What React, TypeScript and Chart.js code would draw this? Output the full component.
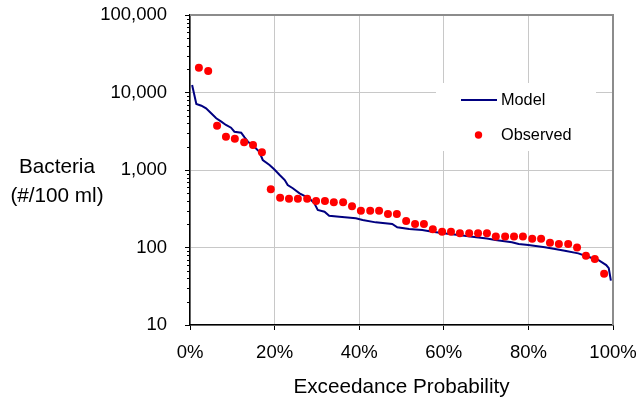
import { useEffect, useRef } from "react";
import { Chart, registerables } from "chart.js";

Chart.register(...registerables);

const FONT = '"Liberation Sans", Arial, Helvetica, sans-serif';

// Exceedance probability (%) and observed bacteria counts (#/100 ml)
const observedProb = [
  2.1, 4.3, 6.4, 8.5, 10.6, 12.8, 14.9, 17.0, 19.1, 21.3,
  23.4, 25.5, 27.7, 29.8, 31.9, 34.0, 36.2, 38.3, 40.4, 42.6,
  44.7, 46.8, 48.9, 51.1, 53.2, 55.3, 57.4, 59.6, 61.7, 63.8,
  66.0, 68.1, 70.2, 72.3, 74.5, 76.6, 78.7, 80.9, 83.0, 85.1,
  87.2, 89.4, 91.5, 93.6, 95.7, 97.9,
];
const observedCount = [
  20900, 18900, 3730, 2690, 2535, 2280, 2100, 1690, 564, 439,
  426, 426, 426, 398, 398, 383, 383, 340, 299, 299,
  299, 271, 271, 220, 201, 201, 172, 160, 160, 153,
  153, 153, 153, 139, 139, 139, 139, 130, 130, 115,
  111, 111, 100, 78, 71, 46,
];

// Modelled exceedance curve
const modelProb = [
  0.5, 1.5, 2.7, 3.8, 5.0, 6.2, 7.4, 8.5, 9.7, 10.5,
  12.1, 12.9, 13.7, 15.2, 16.4, 17.2, 18.8, 19.9, 21.2, 22.4,
  23.1, 24.3, 25.9, 28.2, 29.4, 30.2, 31.8, 32.9, 35.3, 39.2,
  40.8, 43.9, 47.8, 49.0, 51.8, 54.9, 57.3, 60.4, 63.5, 66.7,
  70.2, 72.2, 76.1, 77.7, 80.0, 83.9, 86.3, 88.6, 91.8, 94.1,
  96.5, 98.4, 99.0, 99.5,
];
const modelCount = [
  12500, 7110, 6760, 6250, 5390, 4650, 4200, 3810, 3515, 3120,
  3030, 2640, 2320, 2000, 1720, 1346, 1161, 1021, 862, 743,
  640, 581, 500, 431, 372, 305, 290, 257, 250, 238,
  226, 211, 201, 182, 173, 168, 160, 152, 145, 138,
  131, 125, 117, 111, 108, 101, 95.6, 91, 84, 76,
  69, 59.4, 54, 37.3,
];

const xTickValues = [0, 20, 40, 60, 80, 100];
const yTickValues = [10, 100, 1000, 10000, 100000];
const yTitleLines = ["Bacteria", "(#/100 ml)"];

const GRID = "#c8c8c8";

// Minor log ticks, the grey top/right frame and the horizontal y-axis title
const framePlugin = {
  id: "frame",
  afterDraw(chart: any) {
    const { ctx, chartArea: a, scales } = chart;
    const y = scales.y;
    ctx.save();
    ctx.strokeStyle = "#000";
    ctx.lineWidth = 1;
    const e0 = Math.round(Math.log10(y.min));
    const e1 = Math.round(Math.log10(y.max));
    for (let e = e0; e < e1; e++) {
      for (let m = 2; m <= 9; m++) {
        const py = Math.round(y.getPixelForValue(m * Math.pow(10, e))) + 0.5;
        ctx.beginPath();
        ctx.moveTo(a.left - 3, py);
        ctx.lineTo(a.left, py);
        ctx.stroke();
      }
    }
    ctx.strokeStyle = "#8c8c8c";
    ctx.lineWidth = 2;
    ctx.beginPath();
    ctx.moveTo(a.left, a.top);
    ctx.lineTo(a.right, a.top);
    ctx.lineTo(a.right, a.bottom);
    ctx.stroke();

    ctx.fillStyle = "#000";
    ctx.font = `20.7px ${FONT}`;
    ctx.textAlign = "center";
    ctx.textBaseline = "alphabetic";
    yTitleLines.forEach((t, i) => ctx.fillText(t, 57, 173 + i * 28.5));
    ctx.restore();
  },
};

// Legend drawn inside the plot area on a white panel
const insetLegendPlugin = {
  id: "insetLegend",
  afterDraw(chart: any) {
    const { ctx, chartArea: a } = chart;
    const [model, observed] = chart.data.datasets;
    const bx = a.right - 177;
    const by = a.top + 68;
    ctx.save();
    ctx.fillStyle = "#fff";
    ctx.fillRect(bx, by, 160, 68);

    const row1 = by + 17;
    const row2 = by + 52;
    const textX = bx + 65;

    ctx.strokeStyle = model.borderColor;
    ctx.lineWidth = model.borderWidth;
    ctx.beginPath();
    ctx.moveTo(bx + 25, row1);
    ctx.lineTo(bx + 61, row1);
    ctx.stroke();

    ctx.fillStyle = observed.backgroundColor;
    ctx.beginPath();
    ctx.arc(bx + 42.5, row2, observed.pointRadius - 0.3, 0, Math.PI * 2);
    ctx.fill();

    ctx.fillStyle = "#000";
    ctx.font = `16.3px ${FONT}`;
    ctx.textAlign = "left";
    ctx.textBaseline = "middle";
    ctx.fillText(model.label, textX, row1 + 0.5);
    ctx.fillText(observed.label, textX, row2 + 0.5);
    ctx.restore();
  },
};

export default function App() {
  const canvasRef = useRef<HTMLCanvasElement | null>(null);

  useEffect(() => {
    if (!canvasRef.current) return;
    const chart = new Chart(canvasRef.current, {
      type: "scatter",
      data: {
        datasets: [
          {
            label: "Model",
            data: modelProb.map((x, i) => ({ x, y: modelCount[i] })),
            showLine: true,
            borderColor: "#000080",
            borderWidth: 2,
            pointRadius: 0,
            tension: 0,
            order: 1,
          },
          {
            label: "Observed",
            data: observedProb.map((x, i) => ({ x, y: observedCount[i] })),
            showLine: false,
            backgroundColor: "#ff0000",
            borderWidth: 0,
            pointRadius: 4,
            order: 0,
          },
        ],
      },
      options: {
        responsive: false,
        animation: false,
        devicePixelRatio: 1,
        layout: { padding: { top: 15, right: 27, left: 0, bottom: 0 } },
        plugins: {
          legend: { display: false },
          tooltip: { enabled: false },
        },
        scales: {
          x: {
            type: "linear",
            min: 0,
            max: 100,
            afterBuildTicks: (s: any) => {
              s.ticks = xTickValues.map((v) => ({ value: v }));
            },
            afterFit: (s: any) => {
              s.height = 77;
              s.paddingLeft = 0;
              s.paddingRight = 0;
            },
            ticks: {
              callback: (v: any) => `${v}%`,
              color: "#000",
              font: { family: FONT, size: 18.5 },
              padding: 12,
              maxRotation: 0,
              autoSkip: false,
            },
            grid: { color: GRID, lineWidth: 1, tickLength: 5, tickColor: "#000" },
            border: { color: "#000", width: 1.5 },
            title: {
              display: true,
              text: "Exceedance Probability",
              color: "#000",
              font: { family: FONT, size: 20.7 },
              padding: { top: 4, bottom: 2 },
            },
          },
          y: {
            type: "logarithmic",
            min: 10,
            max: 100000,
            afterBuildTicks: (s: any) => {
              s.ticks = yTickValues.map((v) => ({ value: v, major: true }));
            },
            afterFit: (s: any) => {
              s.width = 190;
              s.paddingTop = 0;
              s.paddingBottom = 0;
            },
            ticks: {
              callback: (v: any) => Number(v).toLocaleString("en-US"),
              color: "#000",
              font: { family: FONT, size: 18.5 },
              padding: 18,
              autoSkip: false,
            },
            grid: { color: GRID, lineWidth: 1, tickLength: 5, tickColor: "#000" },
            border: { color: "#000", width: 1.5 },
          },
        },
      },
      plugins: [framePlugin, insetLegendPlugin],
    });
    return () => chart.destroy();
  }, []);

  return (
    <div style={{ position: "absolute", left: 0, top: 0, width: 640, height: 402, background: "#fff" }}>
      <canvas ref={canvasRef} width={640} height={402} style={{ display: "block" }} />
    </div>
  );
}
